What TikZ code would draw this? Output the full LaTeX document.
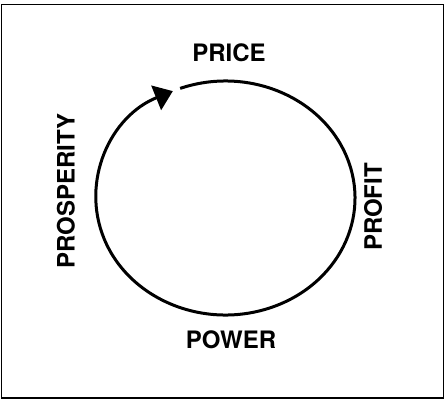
\documentclass[tikz,border=0pt]{standalone}
\usepackage{fontspec}
\setmainfont{TeX Gyre Heros}
\usetikzlibrary{arrows.meta, calc}

\begin{document}
\begin{tikzpicture}[
    x=1pt, y=-1pt,
    word/.style={
        inner sep=0pt,
        font=\fontsize{24}{24}\selectfont\bfseries
    },
    cycle/.style={
        line width=3pt,
        -{Triangle[length=18pt, width=26pt]}
    },
    frame/.style={draw, line width=1.2pt}
]

\useasboundingbox (0,0) rectangle (445,402);
\draw[frame] (1.5,4.5) rectangle (443.5,398);

\coordinate (hub) at (225.5,198);

\node[word] (price)      at (229, 53)  {PRICE};
\node[word] (profit)     at (373, 207) [rotate=90] {PROFIT};
\node[word] (power)      at (231, 340) {POWER};
\node[word] (prosperity) at (66, 191)  [rotate=90] {PROSPERITY};

% the cycle runs clockwise and ends back under PRICE
\draw[cycle] ($(hub)+(-110.5:129.5 and 117)$) arc[start angle=-110.5, end angle=246, x radius=129.5, y radius=117];

\end{tikzpicture}
\end{document}
